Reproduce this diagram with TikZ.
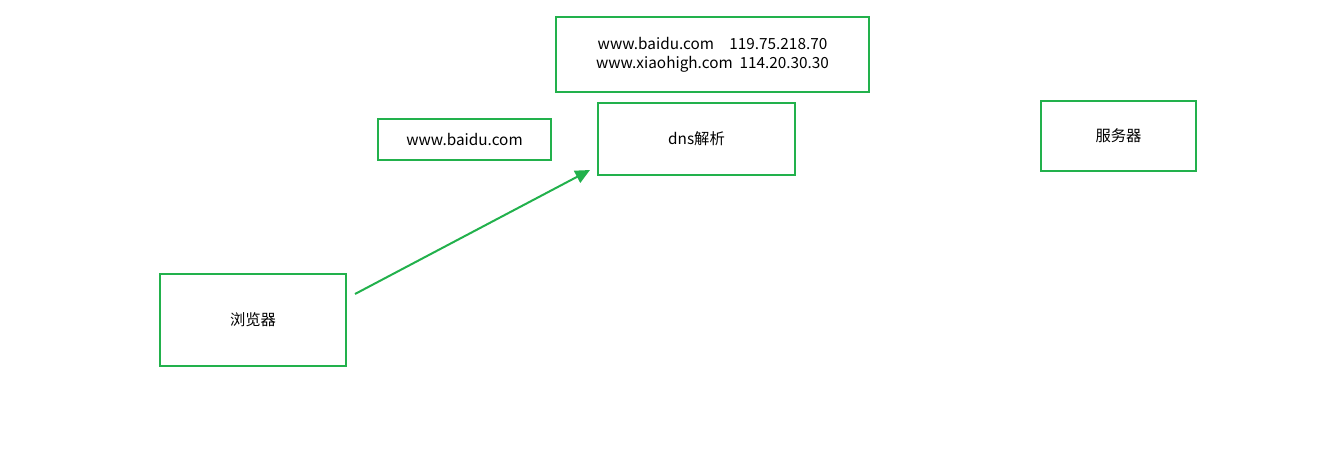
\documentclass[tikz,border=0pt]{standalone}
\usepackage{fontspec}
\setmainfont{Noto Sans CJK SC}
\usetikzlibrary{arrows.meta}
\definecolor{boxgreen}{RGB}{34,177,76}
\tikzset{
  gbox/.style={draw=boxgreen, line width=1.5pt, fill=none, inner sep=0pt, font=\fontsize{11.5}{14.3}\selectfont, align=center},
  garrow/.style={draw=boxgreen, line width=1.5pt, -{Triangle[length=11pt,width=10pt]}}
}
\begin{document}
\begin{tikzpicture}[x=0.75pt,y=-0.75pt]
\useasboundingbox (0,0) rectangle (1328,458);
\node[gbox, minimum width=313*0.75pt, minimum height=75*0.75pt] (table) at (712.5,54.5) {www.baidu.com\hspace{1.0em}119.75.218.70\\www.xiaohigh.com\hspace{0.45em}114.20.30.30};
\node[gbox, minimum width=173*0.75pt, minimum height=41*0.75pt] (req) at (464.5,139.5) {www.baidu.com};
\node[gbox, minimum width=197*0.75pt, minimum height=72*0.75pt] (dns) at (696.5,139) {dns解析};
\node[gbox, minimum width=155*0.75pt, minimum height=70*0.75pt] (srv) at (1118.5,136) {服务器};
\node[gbox, minimum width=186*0.75pt, minimum height=92*0.75pt] (browser) at (253,320) {浏览器};
\coordinate (a) at (355,294);
\coordinate (b) at (590,170);
\draw[garrow] (a) -- (b);
\end{tikzpicture}
\end{document}
